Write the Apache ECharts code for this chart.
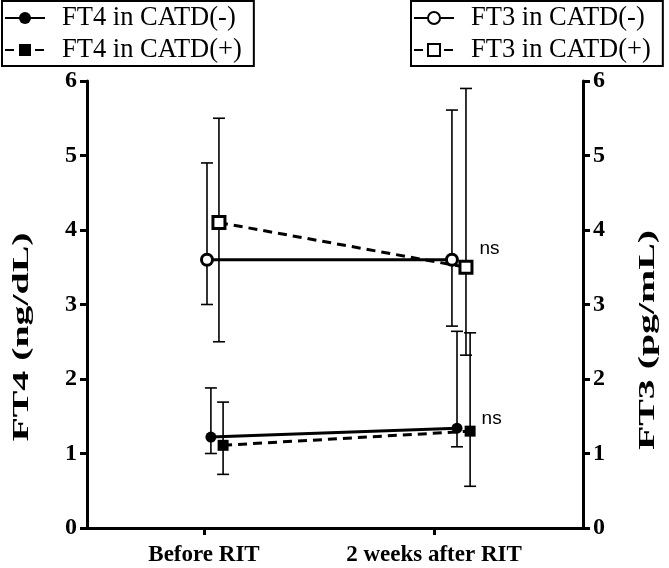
<!DOCTYPE html>
<html>
<head>
<meta charset="utf-8">
<script src="https://cdn.jsdelivr.net/npm/echarts@6/dist/echarts.min.js"></script>
<style>
  html, body { margin: 0; padding: 0; background: #fff; }
  #chart { width: 669px; height: 568px; }
</style>
</head>
<body>
<div id="chart"></div>
<script>
// categories (ticks at 0 and 1), points are nudged sideways like in the figure
const categories = ['Before RIT', '2 weeks after RIT'];

// FT4 (ng/dL), left axis
const ft4NegX = [0.03, 1.10];
const ft4Neg = [1.22, 1.34];
const ft4NegLow = [1.0, 1.09];
const ft4NegHigh = [1.88, 2.64];

const ft4PosX = [0.083, 1.157];
const ft4Pos = [1.11, 1.30];
const ft4PosLow = [0.72, 0.56];
const ft4PosHigh = [1.69, 2.62];

// FT3 (pg/mL), right axis
const ft3NegX = [0.013, 1.078];
const ft3Neg = [3.6, 3.6];
const ft3NegLow = [3.0, 2.71];
const ft3NegHigh = [4.9, 5.61];

const ft3PosX = [0.065, 1.139];
const ft3Pos = [4.1, 3.5];
const ft3PosLow = [2.5, 2.32];
const ft3PosHigh = [5.5, 5.9];

const serif = '"Liberation Serif", "Times New Roman", serif';
const sans = '"Liberation Sans", Arial, sans-serif';

const pts = (xs, ys) => xs.map((x, i) => [x, ys[i]]);
const errs = (xs, lo, hi) => xs.map((x, i) => [x, lo[i], hi[i]]);

function errorBar(params, api) {
    const x = api.value(0);
    const lo = api.coord([x, api.value(1)]);
    const hi = api.coord([x, api.value(2)]);
    const cap = 6;
    const style = { stroke: '#000', lineWidth: 1.6 };
    return {
        type: 'group',
        children: [
            { type: 'line', shape: { x1: lo[0], y1: lo[1], x2: hi[0], y2: hi[1] }, style },
            { type: 'line', shape: { x1: lo[0] - cap, y1: lo[1], x2: lo[0] + cap, y2: lo[1] }, style },
            { type: 'line', shape: { x1: hi[0] - cap, y1: hi[1], x2: hi[0] + cap, y2: hi[1] }, style }
        ]
    };
}

// axis titles are drawn tall and narrow in the figure, so stretch them along their length
function axisTitle(text, x, y) {
    return {
        type: 'text',
        x: x, y: y,
        rotation: Math.PI / 2,
        scaleX: 1.66,
        style: {
            text: text,
            fill: '#000',
            font: 'bold 24px ' + serif,
            align: 'center',
            verticalAlign: 'middle'
        }
    };
}

const chart = echarts.init(document.getElementById('chart'));

const yAxisBase = {
    type: 'value',
    min: 0,
    max: 6,
    interval: 1,
    splitLine: { show: false },
    axisLine: { show: true, onZero: false, lineStyle: { color: '#000', width: 3 } },
    axisTick: { show: true, length: 7, lineStyle: { color: '#000', width: 3 } },
    axisLabel: { color: '#000', fontFamily: serif, fontWeight: 'bold', fontSize: 24, margin: 10 }
};

const legendBase = {
    orient: 'vertical',
    top: 1,
    itemWidth: 40, itemHeight: 15, itemGap: 2,
    padding: [2, 12, 1, 2],
    borderColor: '#000', borderWidth: 2,
    textStyle: { color: '#000', fontFamily: serif, fontSize: 26.5, lineHeight: 30, padding: [0, 0, 0, 12] }
};

const option = {
    animation: false,
    backgroundColor: '#fff',
    grid: { left: 87, right: 86, top: 81, bottom: 40 },
    legend: [
        Object.assign({}, legendBase, { left: 2, data: ['FT4 in CATD(-)', 'FT4 in CATD(+)'] }),
        Object.assign({}, legendBase, { left: 411, data: ['FT3 in CATD(-)', 'FT3 in CATD(+)'] })
    ],
    graphic: [
        axisTitle('FT4 (ng/dL)', 22, 337),
        axisTitle('FT3 (pg/mL)', 648, 340)
    ],
    xAxis: {
        type: 'value',
        min: -0.5087,
        max: 1.6478,
        splitLine: { show: false },
        axisLine: { show: true, onZero: false, lineStyle: { color: '#000', width: 3 } },
        axisTick: { show: true, length: 7, customValues: [0, 1], lineStyle: { color: '#000', width: 3 } },
        axisLabel: {
            customValues: [0, 1],
            formatter: v => categories[Math.round(v)],
            color: '#000', fontFamily: serif, fontWeight: 'bold', fontSize: 23, margin: 16
        }
    },
    yAxis: [
        Object.assign({}, yAxisBase, { position: 'left' }),
        Object.assign({}, yAxisBase, { position: 'right' })
    ],
    series: [
        { type: 'custom', yAxisIndex: 0, z: 1, renderItem: errorBar, encode: { x: 0, y: [1, 2] }, data: errs(ft4NegX, ft4NegLow, ft4NegHigh) },
        { type: 'custom', yAxisIndex: 0, z: 1, renderItem: errorBar, encode: { x: 0, y: [1, 2] }, data: errs(ft4PosX, ft4PosLow, ft4PosHigh) },
        { type: 'custom', yAxisIndex: 1, z: 1, renderItem: errorBar, encode: { x: 0, y: [1, 2] }, data: errs(ft3NegX, ft3NegLow, ft3NegHigh) },
        { type: 'custom', yAxisIndex: 1, z: 1, renderItem: errorBar, encode: { x: 0, y: [1, 2] }, data: errs(ft3PosX, ft3PosLow, ft3PosHigh) },
        {
            name: 'FT4 in CATD(-)', type: 'line', yAxisIndex: 0, z: 3,
            symbol: 'circle', symbolSize: 11,
            itemStyle: { color: '#000' },
            lineStyle: { color: '#000', width: 3 },
            data: pts(ft4NegX, ft4Neg)
        },
        {
            name: 'FT4 in CATD(+)', type: 'line', yAxisIndex: 0, z: 3,
            symbol: 'rect', symbolSize: 11,
            itemStyle: { color: '#000' },
            lineStyle: { color: '#000', width: 3, type: [9, 6] },
            data: pts(ft4PosX, ft4Pos).map((p, i) => i === 1 ? {
                value: p,
                label: { show: true, position: 'right', distance: 6, offset: [0, -12], formatter: 'ns',
                         color: '#000', fontFamily: sans, fontSize: 19 }
            } : p)
        },
        {
            name: 'FT3 in CATD(-)', type: 'line', yAxisIndex: 1, z: 3,
            symbol: 'circle', symbolSize: 11,
            itemStyle: { color: '#fff', borderColor: '#000', borderWidth: 3 },
            lineStyle: { color: '#000', width: 3 },
            data: pts(ft3NegX, ft3Neg)
        },
        {
            name: 'FT3 in CATD(+)', type: 'line', yAxisIndex: 1, z: 3,
            symbol: 'rect', symbolSize: 12,
            itemStyle: { color: '#fff', borderColor: '#000', borderWidth: 3 },
            lineStyle: { color: '#000', width: 3, type: [9, 6] },
            data: pts(ft3PosX, ft3Pos).map((p, i) => i === 1 ? {
                value: p,
                label: { show: true, position: 'right', distance: 6, offset: [0, -18], formatter: 'ns',
                         color: '#000', fontFamily: sans, fontSize: 19 }
            } : p)
        }
    ]
};

chart.setOption(option);
</script>
</body>
</html>
